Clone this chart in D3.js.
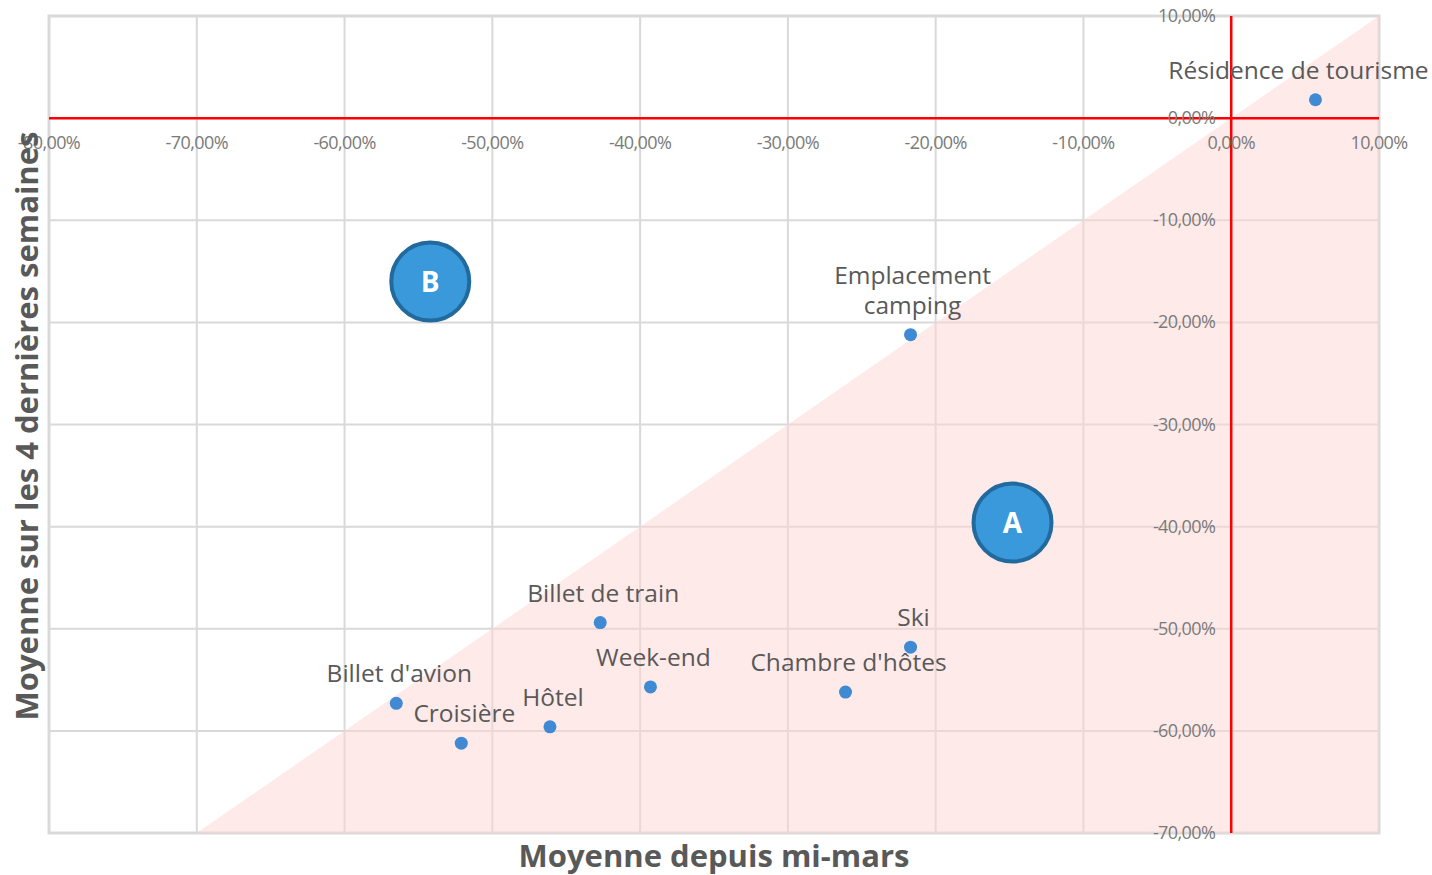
<!DOCTYPE html>
<html>
<head>
<meta charset="utf-8">
<script src="https://cdn.jsdelivr.net/npm/d3@7"></script>
<style>
    body { margin: 0; background: #fff; }
    svg text { font-family: "Open Sans", "DejaVu Sans", sans-serif; }
</style>
</head>
<body>
<svg id="chart" width="1432" height="875"></svg>
<script>
// categories and values (x = moyenne depuis mi-mars, y = moyenne 4 dernieres semaines), in %
var categories = ["Résidence de tourisme", "Emplacement camping", "Billet de train", "Ski",
    "Week-end", "Chambre d'hôtes", "Billet d'avion", "Hôtel", "Croisière"];
var xValues = [5.7, -21.7, -42.7, -21.7, -39.3, -26.1, -56.5, -46.1, -52.1];
var yValues = [1.8, -21.2, -49.4, -51.8, -55.7, -56.2, -57.3, -59.6, -61.2];

// zone markers
var zoneLabels = ["A", "B"];
var zoneX = [-14.8, -54.2];
var zoneY = [-39.6, -16.0];

var xTicks = [-80, -70, -60, -50, -40, -30, -20, -10, 0, 10];
var yTicks = [10, 0, -10, -20, -30, -40, -50, -60, -70];

var margin = { left: 49, right: 53, top: 16, bottom: 42 };
var width = 1432, height = 875;

var svg = d3.select("#chart");

var x = d3.scaleLinear().domain([-80, 10]).range([margin.left, width - margin.right]);
var y = d3.scaleLinear().domain([-70, 10]).range([height - margin.bottom, margin.top]);

var fmt = function (d) { return d.toFixed(2).replace(".", ",") + "%"; };

var gridColor = "#d9d9d9";

// grid lines
svg.append("g").selectAll("line").data(xTicks).join("line")
    .attr("x1", d => x(d)).attr("x2", d => x(d))
    .attr("y1", y(10)).attr("y2", y(-70))
    .attr("stroke", gridColor).attr("stroke-width", 2);

svg.append("g").selectAll("line").data(yTicks).join("line")
    .attr("x1", x(-80)).attr("x2", x(10))
    .attr("y1", d => y(d)).attr("y2", d => y(d))
    .attr("stroke", gridColor).attr("stroke-width", 2);

// frame
svg.append("rect")
    .attr("x", x(-80)).attr("y", y(10))
    .attr("width", x(10) - x(-80)).attr("height", y(-70) - y(10))
    .attr("fill", "none").attr("stroke", gridColor).attr("stroke-width", 3);

// pink zone below the diagonal y = x
var tri = [[-70, -70], [10, 10], [10, -70]];
svg.append("path")
    .attr("d", d3.line().x(d => x(d[0])).y(d => y(d[1]))(tri) + "Z")
    .attr("fill", "#ffd6d6").attr("fill-opacity", 0.5);

// red zero axes
svg.append("line")
    .attr("x1", x(-80)).attr("x2", x(10)).attr("y1", y(0)).attr("y2", y(0))
    .attr("stroke", "#ff0000").attr("stroke-width", 2.5);
svg.append("line")
    .attr("x1", x(0)).attr("x2", x(0)).attr("y1", y(10)).attr("y2", y(-70))
    .attr("stroke", "#ff0000").attr("stroke-width", 2.5);

// tick labels
svg.append("g").selectAll("text").data(xTicks).join("text")
    .attr("x", d => x(d)).attr("y", y(0) + 31)
    .attr("text-anchor", "middle")
    .attr("font-size", 18).attr("fill", "#7a7a7a")
    .attr("letter-spacing", -0.6)
    .text(fmt);

svg.append("g").selectAll("text").data(yTicks).join("text")
    .attr("x", x(0) - 16).attr("y", d => y(d) + 6)
    .attr("text-anchor", "end")
    .attr("font-size", 18).attr("fill", "#7a7a7a")
    .attr("letter-spacing", -0.6)
    .text(fmt);

// points
var pts = categories.map((c, i) => ({ name: c, x: xValues[i], y: yValues[i] }));

svg.append("g").selectAll("circle").data(pts).join("circle")
    .attr("cx", d => x(d.x)).attr("cy", d => y(d.y))
    .attr("r", 6.5).attr("fill", "#3f8ad2");

// labels above points
var lbl = svg.append("g").selectAll("text").data(pts).join("text")
    .attr("x", d => d.name == "Résidence de tourisme" ? x(d.x) - 17 : x(d.x) + 3)
    .attr("y", d => y(d.y) - 21)
    .attr("text-anchor", "middle")
    .attr("font-size", 24.5).attr("fill", "#595959");

lbl.each(function (d) {
    var t = d3.select(this);
    if (d.name == "Emplacement camping") {
        t.append("tspan").attr("x", x(d.x) + 2).attr("dy", "-1.22em").text("Emplacement");
        t.append("tspan").attr("x", x(d.x) + 2).attr("dy", "1.22em").text("camping");
    } else {
        t.text(d.name);
    }
});

// A / B bubbles
var zones = zoneLabels.map((z, i) => ({ name: z, x: zoneX[i], y: zoneY[i] }));
var zg = svg.append("g").selectAll("g").data(zones).join("g");
zg.append("circle")
    .attr("cx", d => x(d.x)).attr("cy", d => y(d.y))
    .attr("r", 39).attr("fill", "#3a99da")
    .attr("stroke", "#226a9e").attr("stroke-width", 4);
zg.append("text")
    .attr("x", d => x(d.x)).attr("y", d => y(d.y) + 10)
    .attr("text-anchor", "middle")
    .attr("font-size", 28).attr("font-weight", "bold").attr("fill", "#fff")
    .text(d => d.name);

// axis titles
svg.append("text")
    .attr("x", (x(-80) + x(10)) / 2).attr("y", 867)
    .attr("text-anchor", "middle")
    .attr("font-size", 31).attr("font-weight", "bold").attr("fill", "#595959")
    .text("Moyenne depuis mi-mars");

svg.append("text")
    .attr("transform", "translate(38," + 426 + ") rotate(-90)")
    .attr("text-anchor", "middle")
    .attr("font-size", 31).attr("font-weight", "bold").attr("fill", "#595959")
    .text("Moyenne sur les 4 dernières semaines");
</script>
</body>
</html>
